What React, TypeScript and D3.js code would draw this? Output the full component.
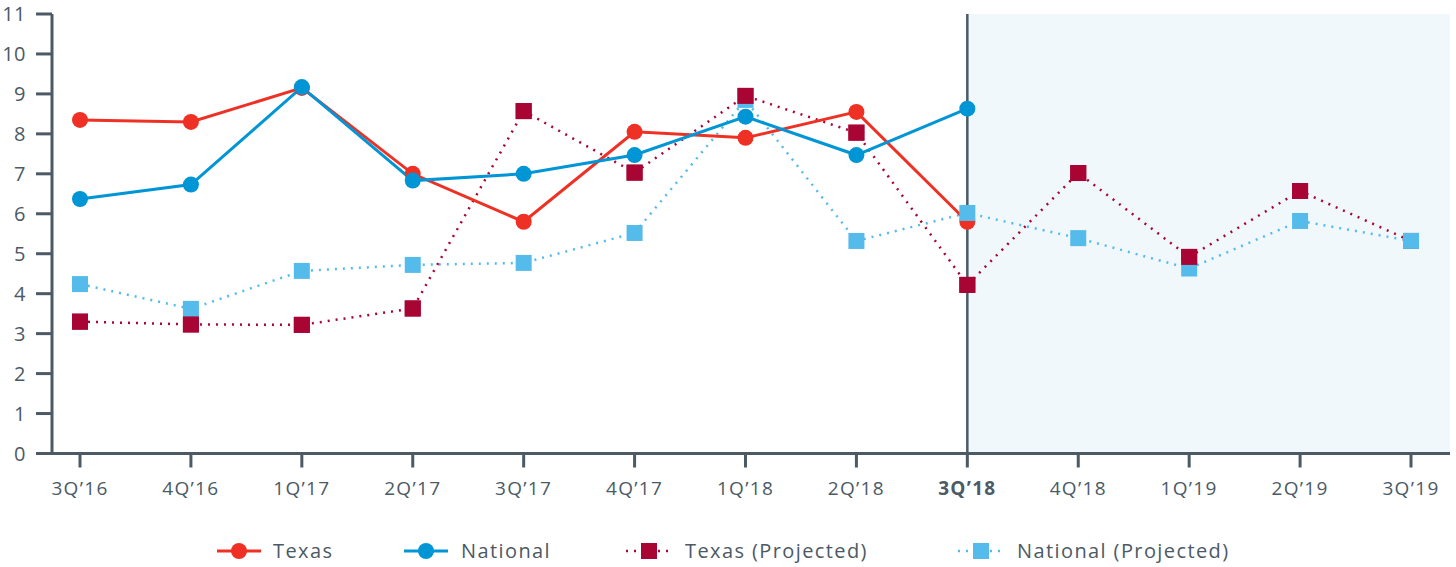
import React from 'react';
import * as d3 from 'd3';

const quarters = ["3Q’16", "4Q’16", "1Q’17", "2Q’17", "3Q’17", "4Q’17", "1Q’18", "2Q’18", "3Q’18", "4Q’18", "1Q’19", "2Q’19", "3Q’19"];
const texas = [8.35, 8.3, 9.15, 7.0, 5.8, 8.05, 7.9, 8.55, 5.8];
const national = [6.37, 6.73, 9.17, 6.83, 7.0, 7.47, 8.43, 7.47, 8.63];
const texasProjected = [3.3, 3.23, 3.22, 3.63, 8.57, 7.03, 8.95, 8.03, 4.22, 7.02, 4.92, 6.57, 5.32];
const nationalProjected = [4.24, 3.62, 4.57, 4.72, 4.77, 5.52, 8.85, 5.32, 6.02, 5.39, 4.63, 5.82, 5.32];
const yTicks = [0, 1, 2, 3, 4, 5, 6, 7, 8, 9, 10, 11];
const currentQuarter = "3Q’18";

const W = 1456;
const H = 567;
const AXIS = '#4b5a65';
const FONT = '"Open Sans", Lato, sans-serif';

const colors = {
  texas: '#ee3124',
  national: '#0095d5',
  texasProj: '#a80534',
  nationalProj: '#55bbea',
};

const App: React.FC = () => {
  const x = d3.scalePoint<string>().domain(quarters).range([80, 1411]);
  const y = d3.scaleLinear().domain([0, 11]).range([453.5, 14]);
  const left = 52;
  const right = 1450;

  const line = d3
    .line<[string, number]>()
    .x(d => x(d[0]) as number)
    .y(d => y(d[1]));

  const pairs = (vals: number[]) => vals.map((v, i) => [quarters[i], v] as [string, number]);

  const tx = pairs(texas);
  const nat = pairs(national);
  const txp = pairs(texasProjected);
  const natp = pairs(nationalProjected);
  const cx = x(currentQuarter) as number;

  const sq = 16;

  return (
    <svg width={W} height={H} style={{ position: 'absolute', left: 0, top: 0 }} fontFamily={FONT}>
      {/* projected region */}
      <rect x={cx} y={y(11)} width={right - cx} height={y(0) - y(11)} fill="#f1f8fc" />

      {/* y axis */}
      <line x1={left} x2={left} y1={y(11)} y2={y(0)} stroke={AXIS} strokeWidth={3} />
      {yTicks.map(t => (
        <g key={t}>
          <line x1={36} x2={left} y1={y(t)} y2={y(t)} stroke={AXIS} strokeWidth={3} />
          <text x={26} y={y(t)} dy="0.35em" textAnchor="end" fontSize={20} letterSpacing={0.5} fill={AXIS}>{t}</text>
        </g>
      ))}

      {/* x axis */}
      <line x1={left - 1.5} x2={right} y1={y(0)} y2={y(0)} stroke={AXIS} strokeWidth={3} />
      {quarters.map(q => (
        <g key={q}>
          <line x1={x(q)} x2={x(q)} y1={y(0)} y2={y(0) + 14} stroke={AXIS} strokeWidth={3} />
          <text x={x(q)} y={y(0) + 41} textAnchor="middle" fontSize={19} letterSpacing={1.3} fill={AXIS}
            fontWeight={q === currentQuarter ? 700 : 400}>{q}</text>
        </g>
      ))}

      {/* divider */}
      <line x1={cx} x2={cx} y1={y(11)} y2={y(0)} stroke={AXIS} strokeWidth={2.5} />

      {/* projected lines */}
      <path d={line(natp) || ''} fill="none" stroke={colors.nationalProj} strokeWidth={2.5} strokeDasharray="2 6" />
      <path d={line(txp) || ''} fill="none" stroke={colors.texasProj} strokeWidth={2.5} strokeDasharray="2 6" />

      {/* actual lines */}
      <path d={line(tx) || ''} fill="none" stroke={colors.texas} strokeWidth={3} />
      <path d={line(nat) || ''} fill="none" stroke={colors.national} strokeWidth={3} />

      {tx.map(d => <circle key={'t' + d[0]} cx={x(d[0])} cy={y(d[1])} r={8} fill={colors.texas} />)}
      {nat.map(d => <circle key={'n' + d[0]} cx={x(d[0])} cy={y(d[1])} r={8} fill={colors.national} />)}

      {txp.map(d => (
        <rect key={'tp' + d[0]} x={(x(d[0]) as number) - sq / 2} y={y(d[1]) - sq / 2} width={sq} height={sq} fill={colors.texasProj} />
      ))}
      {natp.map(d => (
        <rect key={'np' + d[0]} x={(x(d[0]) as number) - sq / 2} y={y(d[1]) - sq / 2} width={sq} height={sq} fill={colors.nationalProj} />
      ))}
      {/* Texas projected squares sit on top where the two overlap, except at the final point */}
      {txp.slice(0, -1).map(d => (
        <rect key={'tp2' + d[0]} x={(x(d[0]) as number) - sq / 2} y={y(d[1]) - sq / 2} width={sq} height={sq} fill={colors.texasProj} />
      ))}

      {/* legend */}
      <g transform="translate(0,551)">
        <line x1={217} x2={261} stroke={colors.texas} strokeWidth={3} />
        <circle cx={239} cy={0} r={8} fill={colors.texas} />
        <text x={273} dy="0.35em" fontSize={20} letterSpacing={1.4} fill={AXIS}>Texas</text>

        <line x1={404} x2={448} stroke={colors.national} strokeWidth={3} />
        <circle cx={426} cy={0} r={8} fill={colors.national} />
        <text x={461} dy="0.35em" fontSize={20} letterSpacing={1.4} fill={AXIS}>National</text>

        <line x1={626} x2={670} stroke={colors.texasProj} strokeWidth={2.5} strokeDasharray="2 6" />
        <rect x={641} y={-8} width={16} height={16} fill={colors.texasProj} />
        <text x={685} dy="0.35em" fontSize={20} letterSpacing={1.4} fill={AXIS}>Texas (Projected)</text>

        <line x1={958} x2={1002} stroke={colors.nationalProj} strokeWidth={2.5} strokeDasharray="2 6" />
        <rect x={973} y={-8} width={16} height={16} fill={colors.nationalProj} />
        <text x={1017} dy="0.35em" fontSize={20} letterSpacing={1.4} fill={AXIS}>National (Projected)</text>
      </g>
    </svg>
  );
};

export default App;
